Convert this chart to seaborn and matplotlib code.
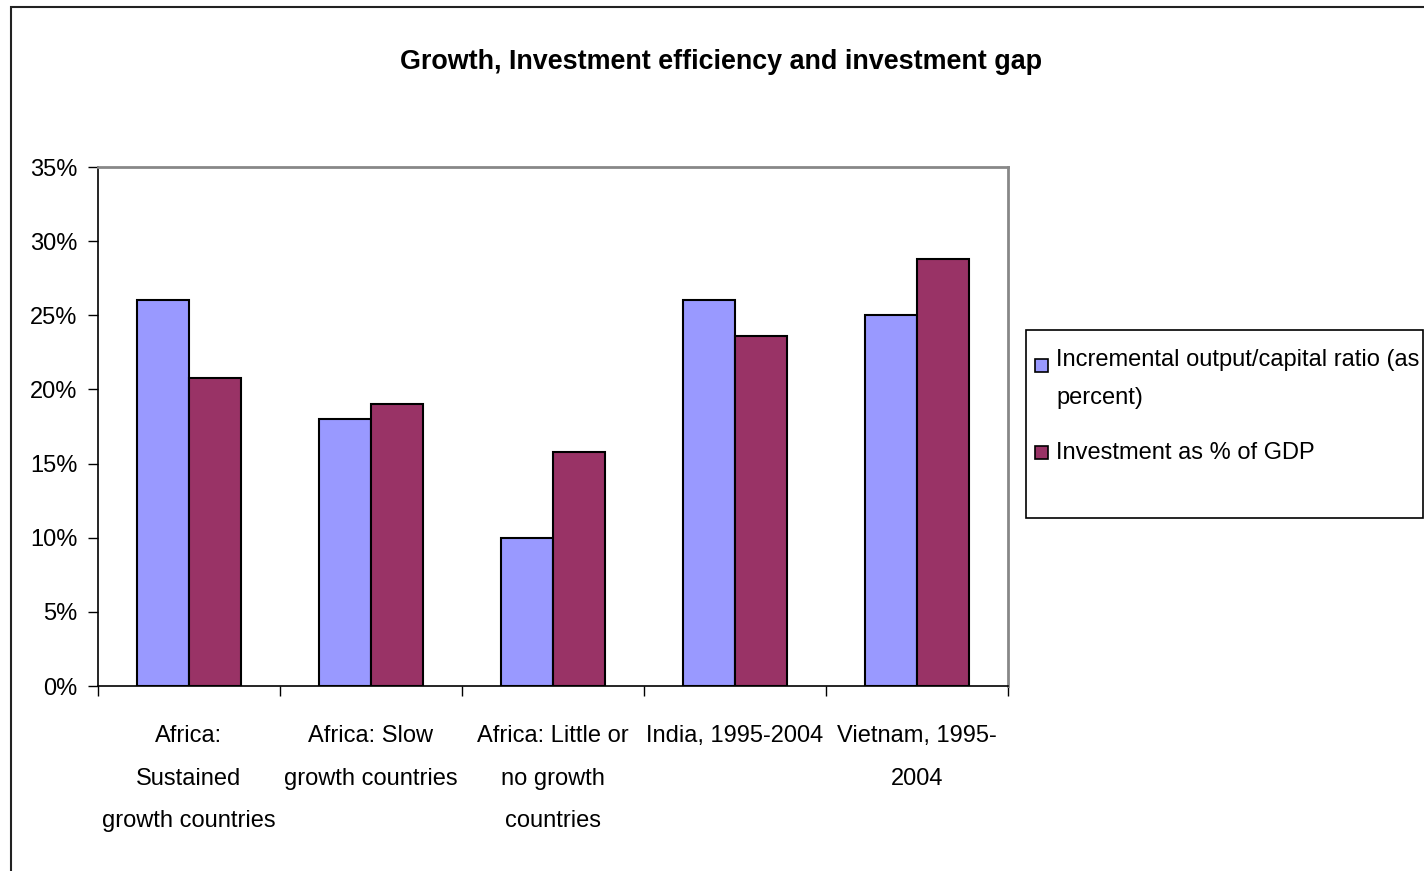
import seaborn as sns
import numpy as np
import pandas as pd
import matplotlib.pyplot as plt
from matplotlib.patches import Rectangle
from matplotlib.ticker import PercentFormatter

categories = ["Africa:\nSustained\ngrowth countries",
              "Africa: Slow\ngrowth countries",
              "Africa: Little or\nno growth\ncountries",
              "India, 1995-2004",
              "Vietnam, 1995-\n2004"]
icor = [0.26, 0.18, 0.10, 0.26, 0.25]
investment = [0.208, 0.19, 0.158, 0.236, 0.288]
series = ["Incremental output/capital ratio (as percent)", "Investment as % of GDP"]
legend_text = ["Incremental output/capital ratio (as\npercent)", "Investment as % of GDP"]
colors = ["#9999FF", "#993366"]

df = pd.DataFrame({
    "cat": categories * 2,
    "series": [series[0]] * 5 + [series[1]] * 5,
    "value": icor + investment,
})

sns.set_style("white")
plt.rcParams["font.family"] = ["Liberation Sans", "DejaVu Sans"]
plt.rcParams["text.color"] = "black"
plt.rcParams["xtick.color"] = "black"
plt.rcParams["ytick.color"] = "black"

fig = plt.figure(figsize=(14.24, 8.71), dpi=100)
ax = fig.add_axes([98 / 1424, 1 - 686 / 871, 910 / 1424, 519 / 871])

sns.barplot(data=df, x="cat", y="value", hue="series", palette=colors, saturation=1,
            width=0.571, edgecolor="black", linewidth=1.5, legend=False, ax=ax)

ax.set_xlim(-0.5, 4.5)
ax.set_ylim(0, 0.35)
ax.set_yticks(np.arange(0, 0.351, 0.05))
ax.yaxis.set_major_formatter(PercentFormatter(1.0, decimals=0))
ax.set_xlabel("")
ax.set_ylabel("")

# category labels centered, boundary ticks between groups
ax.set_xticks(np.arange(-0.5, 5, 1.0))
ax.set_xticklabels([])
ax.set_xticks(range(5), minor=True)
ax.set_xticklabels(categories, minor=True, fontsize=17, linespacing=2.22, va="top")
ax.tick_params(axis="x", which="minor", length=0, pad=28)
ax.tick_params(axis="x", which="major", direction="out", length=7, width=1, color="black", bottom=True)
ax.tick_params(axis="y", direction="out", length=7, width=1, color="black", left=True,
               labelsize=17, pad=8)

for s in ["left", "bottom"]:
    ax.spines[s].set_color("black")
    ax.spines[s].set_linewidth(1.2)
for s in ["top", "right"]:
    ax.spines[s].set_color("#888888")
    ax.spines[s].set_linewidth(2)

fig.text(721 / 1424, 0.929, "Growth, Investment efficiency and investment gap",
         ha="center", va="center", fontsize=19.4, fontweight="bold")

# outer chart frame
fig.add_artist(Rectangle((11 / 1424, -0.1), 1.2, 1.1 - 7 / 871, transform=fig.transFigure,
                         fill=False, edgecolor="#222222", linewidth=1.5))

# legend box
fig.add_artist(Rectangle((1026 / 1424, 1 - 518 / 871), (1423 - 1026) / 1424, 188 / 871,
                         transform=fig.transFigure, fill=False, edgecolor="black", linewidth=1.2))
sq_y = [366, 453]
txt_y = [361, 454]
for i in range(2):
    fig.add_artist(Rectangle((1035 / 1424, 1 - (sq_y[i] + 6.5) / 871), 13 / 1424, 13 / 871,
                             transform=fig.transFigure, facecolor=colors[i],
                             edgecolor="black", linewidth=1.2))
    fig.text(1056 / 1424, 1 - (txt_y[i] - 12) / 871, legend_text[i], ha="left", va="top",
             fontsize=17, linespacing=1.95)

fig.savefig("out.png", dpi=100)
